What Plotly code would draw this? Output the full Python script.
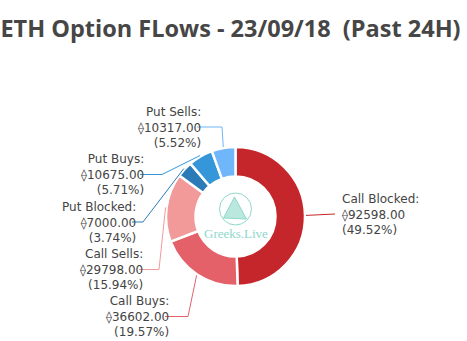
import math
import plotly.graph_objects as go

# ---- data ----
categories = ["Call Blocked", "Call Buys", "Call Sells", "Put Blocked", "Put Buys", "Put Sells"]
values = [92598.00, 36602.00, 29798.00, 7000.00, 10675.00, 10317.00]
colors = ["#c4262b", "#e4616a", "#f29a9a", "#2a7bb8", "#3597da", "#70b6fa"]
title_text = "ETH Option FLows - 23/09/18\u00a0\u00a0(Past 24H)"

# ---- layout constants (pixels) ----
W, H = 467, 341
CX, CY, R_OUT, R_IN = 235.5, 216.5, 69.5, 40.0
# label placement: side, text edge x, middle line y, elbow x
label_layout = {
    "Call Blocked": ("right", 342, 214, 335),
    "Call Buys": ("left", 169, 316.5, 188),
    "Call Sells": ("left", 143, 269.5, 159),
    "Put Blocked": ("left", 136, 222, 143),
    "Put Buys": ("left", 144, 174.5, 162),
    "Put Sells": ("left", 201, 127, 222),
}

total = sum(values)
fig = go.Figure()
fig.add_trace(go.Pie(
    labels=categories, values=values, hole=R_IN / R_OUT, sort=False,
    direction="clockwise", rotation=0,
    marker=dict(colors=colors, line=dict(color="white", width=2.5)),
    textinfo="none", hoverinfo="label+value+percent", showlegend=False,
    domain=dict(x=[(CX - R_OUT) / W, (CX + R_OUT) / W],
                y=[(H - CY - R_OUT) / H, (H - CY + R_OUT) / H]),
))

shapes = []
annotations = []
cum = 0.0
for cat, val, col in zip(categories, values, colors):
    frac = val / total
    mid = (cum + frac / 2) * 2 * math.pi
    cum += frac
    sx = CX + (R_OUT + 1) * math.sin(mid)
    sy = CY - (R_OUT + 1) * math.cos(mid)
    side, tx, ty, ex = label_layout[cat]
    end_x = tx - 4 if side == "left" else tx - 7
    path = f"M {sx:.1f},{sy:.1f} L {ex:.1f},{ty:.1f} L {end_x:.1f},{ty:.1f}"
    shapes.append(dict(type="path", xref="x", yref="y", path=path,
                       line=dict(color=col, width=1)))
    text = f"{cat}:<br>\u27e0{val:.2f}<br>({frac * 100:.2f}%)"
    annotations.append(dict(
        x=tx, y=ty, xref="x", yref="y", text=text, showarrow=False,
        xanchor="right" if side == "left" else "left", yanchor="middle",
        align="right" if side == "left" else "left",
        borderpad=0, borderwidth=0,
        font=dict(family="DejaVu Sans", size=12, color="#444444"),
    ))

# watermark logo
teal = "#8ed8cb"
shapes.append(dict(type="circle", xref="x", yref="y", x0=CX - 16, x1=CX + 16,
                   y0=209 - 16, y1=209 + 16, line=dict(color=teal, width=1)))
shapes.append(dict(type="path", xref="x", yref="y",
                   path=f"M {CX-1},{197} L {CX+11},{219} L {CX-12},{218} Z",
                   line=dict(color=teal, width=1), fillcolor="rgba(140,215,200,0.6)"))
annotations.append(dict(x=CX, y=233, xref="x", yref="y", text="Greeks.Live", showarrow=False,
                        xanchor="center", yanchor="middle", borderpad=0, borderwidth=0,
                        font=dict(family="Liberation Serif", size=13, color=teal)))

fig.update_layout(
    width=W, height=H, margin=dict(l=0, r=0, t=0, b=0),
    paper_bgcolor="white", plot_bgcolor="white",
    title=dict(text=title_text, x=0.4936, xanchor="center", y=1 - 29 / H, yanchor="middle",
               font=dict(family="Open Sans", size=23.5, color="#464646", weight="bold")),
    xaxis=dict(range=[0, W], visible=False, domain=[0, 1], fixedrange=True),
    yaxis=dict(range=[H, 0], visible=False, domain=[0, 1], fixedrange=True),
    shapes=shapes, annotations=annotations,
)
fig.write_html("out.html")
